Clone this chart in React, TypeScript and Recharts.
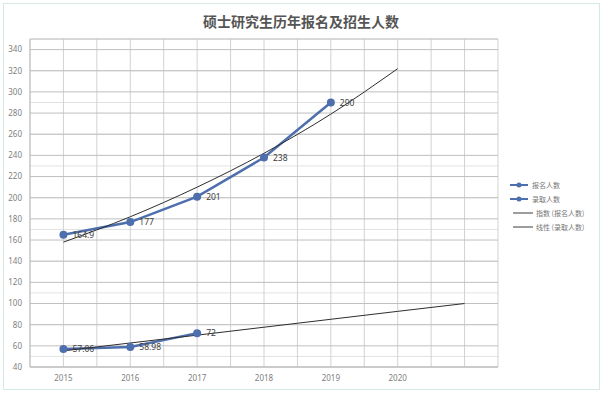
import React from 'react';
import { LineChart, Line, XAxis, YAxis, CartesianGrid, LabelList } from 'recharts';

// 年份（最后一格为趋势线延伸用的空类目）
const years = ['2015', '2016', '2017', '2018', '2019', '2020', ''];
const applicants = [164.9, 177, 201, 238, 290, null, null];
const admitted = [57.06, 58.98, 72, null, null, null, null];
// 趋势线：各年份估计值
const expTrend = [158, 182, 210, 242, 279, 322, null];
const linTrend = [55.2, 62.7, 70.1, 77.6, 85.1, 92.6, 100];

const yTicks = [40, 60, 80, 100, 120, 140, 160, 180, 200, 220, 240, 260, 280, 300, 320, 340];
const yMinorTicks = [40, 50, 60, 70, 80, 90, 100, 110, 120, 130, 140, 150, 160, 170, 180, 190, 200, 210, 220, 230, 240, 250, 260, 270, 280, 290, 300, 310, 320, 330, 340, 350];

const legendItems = [
  { name: '报名人数', color: '#4e6fae', dot: true },
  { name: '录取人数', color: '#4e6fae', dot: true },
  { name: '指数 (报名人数)', color: '#3a3a3a', dot: false },
  { name: '线性 (录取人数)', color: '#3a3a3a', dot: false },
];

const data = years.map((y, i) => ({
  idx: i + 1,
  year: y,
  apply: applicants[i],
  admit: admitted[i],
  expTrend: expTrend[i],
  linTrend: linTrend[i],
}));

const xTicks = years.slice(0, 6).map((_, i) => i + 1);
const xGridTicks = [0.5, 1, 1.5, 2, 2.5, 3, 3.5, 4, 4.5, 5, 5.5, 6, 6.5, 7, 7.5];

const fontFamily = '"Noto Sans", "Noto Sans CJK SC", sans-serif';
const blue = '#4e6fae';

const fmt = (v: any) => (v === null || v === undefined ? '' : String(v));

export default function App() {
  return (
    <div style={{ position: 'relative', width: 602, height: 398, background: '#fff', fontFamily }}>
      <style>{'body{margin:0}'}</style>
      <div
        style={{
          position: 'absolute', left: 3, top: 3, width: 595, height: 385,
          border: '1px solid #d3ebe3', pointerEvents: 'none',
        }}
      />
      <div
        style={{
          position: 'absolute', top: 11, left: 0, width: 602, textAlign: 'center',
          fontSize: 14, fontWeight: 700, color: '#555', fontFamily: '"Noto Sans CJK SC", sans-serif',
        }}
      >
        硕士研究生历年报名及招生人数
      </div>

      <LineChart width={602} height={398} data={data} margin={{ top: 39, right: 104, bottom: 1, left: 0 }}>
        <XAxis
          dataKey="idx" type="number" domain={[0.5, 7.5]} ticks={xTicks}
          tickFormatter={(v: number) => years[v - 1]}
          tickLine={false} axisLine={{ stroke: '#bdbdbd' }} height={30}
          tick={{ fontSize: 8, fill: '#808080' }} interval={0}
        />
        <XAxis xAxisId="grid" dataKey="idx" type="number" domain={[0.5, 7.5]} ticks={xGridTicks} hide />
        <YAxis
          domain={[40, 350]} ticks={yTicks} width={30} tickLine={false} interval={0}
          axisLine={{ stroke: '#bdbdbd' }} tick={{ fontSize: 8, fill: '#808080' }}
          allowDataOverflow
        />
        <YAxis yAxisId="minor" domain={[40, 350]} ticks={yMinorTicks} hide allowDataOverflow />

        <CartesianGrid yAxisId="minor" vertical={false} stroke="#e2e2e2" />
        <CartesianGrid xAxisId="grid" horizontal={false} stroke="#d2d2d2" />
        <CartesianGrid vertical={false} stroke="#bfbfbf" />

        <Line
          dataKey="apply" name="报名人数" stroke={blue} strokeWidth={2.5}
          dot={{ r: 4, fill: blue, stroke: blue, strokeWidth: 0 }} isAnimationActive={false}
        >
          <LabelList dataKey="apply" position="right" offset={9} formatter={fmt} fill="#404040" fontSize={8.5} />
        </Line>
        <Line
          dataKey="admit" name="录取人数" stroke={blue} strokeWidth={2.5}
          dot={{ r: 4, fill: blue, stroke: blue, strokeWidth: 0 }} isAnimationActive={false}
        >
          <LabelList dataKey="admit" position="right" offset={9} formatter={fmt} fill="#404040" fontSize={8.5} />
        </Line>
        <Line
          dataKey="expTrend" name="指数 (报名人数)" type="monotone" stroke="#2e2e2e" strokeWidth={1}
          dot={false} activeDot={false} isAnimationActive={false}
        />
        <Line
          dataKey="linTrend" name="线性 (录取人数)" type="linear" stroke="#2e2e2e" strokeWidth={1}
          dot={false} activeDot={false} isAnimationActive={false}
        />
      </LineChart>

      <div style={{ position: 'absolute', left: 508, top: 178, width: 92 }}>
        {legendItems.map((it) => (
          <div key={it.name} style={{ display: 'flex', alignItems: 'center', height: 14 }}>
            <svg width={it.dot ? 22 : 26} height={10} style={{ flex: 'none' }}>
              <line x1={it.dot ? 2 : 5} y1={5} x2={it.dot ? 20 : 25} y2={5} stroke={it.color} strokeWidth={it.dot ? 2 : 1} />
              {it.dot && <circle cx={11} cy={5} r={2.5} fill={it.color} />}
            </svg>
            <span style={{ fontSize: 7, color: '#777', marginLeft: 2, whiteSpace: 'nowrap', fontFamily: '"Noto Sans CJK SC", sans-serif' }}>
              {it.name}
            </span>
          </div>
        ))}
      </div>
    </div>
  );
}
